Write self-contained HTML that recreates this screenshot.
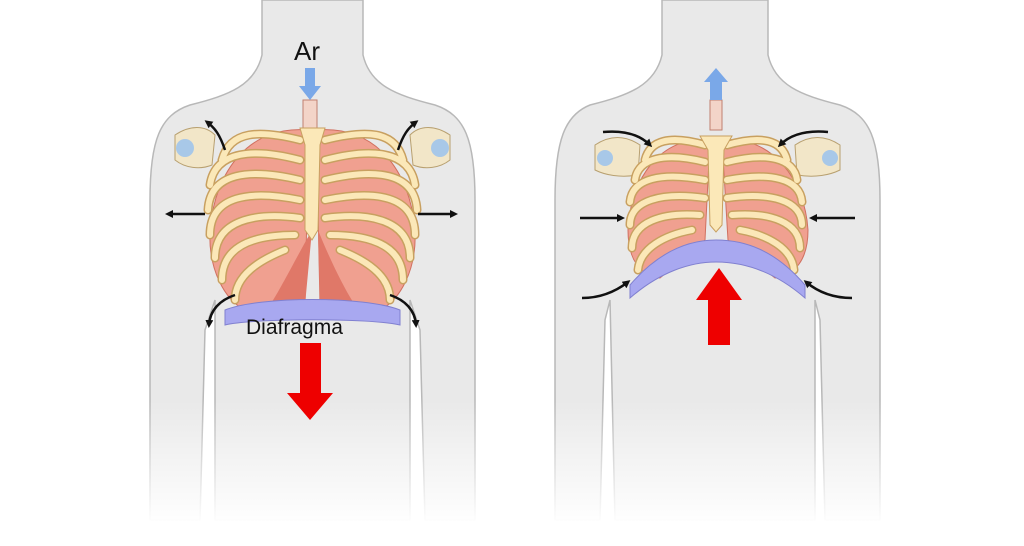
<!DOCTYPE html>
<html><head><meta charset="utf-8"><style>
html,body{margin:0;padding:0;background:#fff;}
svg{display:block;}
</style></head><body>
<svg width="1024" height="546" viewBox="0 0 1024 546" xmlns="http://www.w3.org/2000/svg">
<defs>
<marker id="ah" markerWidth="8" markerHeight="8" refX="5" refY="4" orient="auto" markerUnits="userSpaceOnUse">
<path d="M0,0 L8,4 L0,8 Z" fill="#111"/></marker>
<linearGradient id="fade" x1="0" y1="0" x2="0" y2="1"><stop offset="0" stop-color="#fff" stop-opacity="0"/><stop offset="0.85" stop-color="#fff" stop-opacity="1"/></linearGradient>
</defs>
<rect width="1024" height="546" fill="#fff"/>
<!-- left torso -->
<path d="M262,0 L262,55 C255,85 230,95 190,105 C160,115 150,140 150,200 L150,520 L200,520 L205,330 L215,300 L215,520 L410,520 L410,300 L420,330 L425,520 L475,520 L475,200 C475,140 465,115 435,105 C395,95 370,85 363,55 L363,0 Z" fill="#e9e9e9" stroke="#b8b8b8" stroke-width="1.5"/>
<!-- right torso -->
<path d="M662,0 L662,55 C655,85 630,95 590,105 C565,115 555,140 555,200 L555,520 L600,520 L605,320 L610,300 L615,520 L815,520 L815,300 L820,320 L825,520 L880,520 L880,200 C880,140 870,115 840,105 C800,95 775,85 768,55 L768,0 Z" fill="#e9e9e9" stroke="#b8b8b8" stroke-width="1.5"/>
<rect x="0" y="400" width="1024" height="146" fill="url(#fade)"/>

<!-- LEFT ribcage -->
<g>
<rect x="303" y="100" width="14" height="28" fill="#f3d4c8" stroke="#c08070"/>
<path d="M175,135 C190,125 205,125 215,135 L212,165 C200,170 185,168 175,160 Z" fill="#f2e6c8" stroke="#b8a070"/>
<path d="M450,135 C435,125 420,125 410,135 L413,165 C425,170 440,168 450,160 Z" fill="#f2e6c8" stroke="#b8a070"/>
<circle cx="185" cy="148" r="9" fill="#a8c8e8"/><circle cx="440" cy="148" r="9" fill="#a8c8e8"/>
<path d="M308,130 C250,125 215,170 210,230 C208,270 225,300 245,310 L305,305 L308,160 Z" fill="#f0a090" stroke="#d07060"/>
<path d="M317,130 C375,125 410,170 415,230 C417,270 400,300 380,310 L320,305 L317,160 Z" fill="#f0a090" stroke="#d07060"/>
<path d="M312,230 C295,260 280,290 270,305 L305,305 Z" fill="#e07868"/>
<path d="M318,230 C330,260 345,290 355,305 L320,305 Z" fill="#e07868"/>
<g fill="none" stroke="#c8a060" stroke-width="9" stroke-linecap="round">
<path d="M300,140 C260,130 230,130 222,160"/>
<path d="M300,160 C255,148 215,150 210,185"/>
<path d="M300,180 C250,168 210,172 208,210"/>
<path d="M300,200 C250,190 210,195 210,235"/>
<path d="M300,218 C255,212 215,220 215,258"/>
<path d="M295,235 C255,235 222,245 222,280"/>
<path d="M285,250 C260,260 235,275 235,300"/>
<path d="M325,140 C365,130 395,130 403,160"/>
<path d="M325,160 C370,148 410,150 415,185"/>
<path d="M325,180 C375,168 415,172 417,210"/>
<path d="M325,200 C375,190 415,195 415,235"/>
<path d="M325,218 C370,212 410,220 410,258"/>
<path d="M330,235 C370,235 403,245 403,280"/>
<path d="M340,250 C365,260 390,275 390,300"/>
</g>
<g fill="none" stroke="#fbe8b8" stroke-width="6" stroke-linecap="round">
<path d="M300,140 C260,130 230,130 222,160"/>
<path d="M300,160 C255,148 215,150 210,185"/>
<path d="M300,180 C250,168 210,172 208,210"/>
<path d="M300,200 C250,190 210,195 210,235"/>
<path d="M300,218 C255,212 215,220 215,258"/>
<path d="M295,235 C255,235 222,245 222,280"/>
<path d="M285,250 C260,260 235,275 235,300"/>
<path d="M325,140 C365,130 395,130 403,160"/>
<path d="M325,160 C370,148 410,150 415,185"/>
<path d="M325,180 C375,168 415,172 417,210"/>
<path d="M325,200 C375,190 415,195 415,235"/>
<path d="M325,218 C370,212 410,220 410,258"/>
<path d="M330,235 C370,235 403,245 403,280"/>
<path d="M340,250 C365,260 390,275 390,300"/>
</g>
<path d="M300,128 L325,128 L320,145 L318,230 L312,240 L305,230 L305,145 Z" fill="#fbe8b8" stroke="#c8a060"/>
<path d="M225,310 C260,296 365,296 400,310 L400,325 C370,318 255,318 225,325 Z" fill="#a8a8f0" stroke="#8080d0"/>
</g>

<!-- RIGHT ribcage -->
<g>
<rect x="710" y="100" width="12" height="30" fill="#f3d4c8" stroke="#c08070"/>
<path d="M595,145 C610,135 625,135 640,145 L638,175 C620,178 605,175 595,170 Z" fill="#f2e6c8" stroke="#b8a070"/>
<path d="M840,145 C825,135 810,135 795,145 L797,175 C815,178 830,175 840,170 Z" fill="#f2e6c8" stroke="#b8a070"/>
<circle cx="605" cy="158" r="8" fill="#a8c8e8"/><circle cx="830" cy="158" r="8" fill="#a8c8e8"/>
<path d="M710,140 C660,135 630,180 628,230 C628,260 640,275 660,278 L705,240 Z" fill="#f0a090" stroke="#d07060"/>
<path d="M722,140 C772,135 805,180 808,230 C808,260 795,275 775,278 L728,240 Z" fill="#f0a090" stroke="#d07060"/>
<g fill="none" stroke="#c8a060" stroke-width="9" stroke-linecap="round">
<path d="M705,145 C670,135 650,140 645,160"/>
<path d="M705,162 C665,152 638,158 635,180"/>
<path d="M705,180 C662,172 632,178 630,202"/>
<path d="M705,198 C662,192 630,200 630,225"/>
<path d="M700,215 C662,212 632,222 632,248"/>
<path d="M692,230 C665,235 640,248 638,270"/>
<path d="M727,145 C762,135 782,140 787,160"/>
<path d="M727,162 C767,152 794,158 797,180"/>
<path d="M727,180 C770,172 800,178 802,202"/>
<path d="M727,198 C770,192 802,200 802,225"/>
<path d="M732,215 C770,212 800,222 800,248"/>
<path d="M740,230 C767,235 792,248 794,270"/>
</g>
<g fill="none" stroke="#fbe8b8" stroke-width="6" stroke-linecap="round">
<path d="M705,145 C670,135 650,140 645,160"/>
<path d="M705,162 C665,152 638,158 635,180"/>
<path d="M705,180 C662,172 632,178 630,202"/>
<path d="M705,198 C662,192 630,200 630,225"/>
<path d="M700,215 C662,212 632,222 632,248"/>
<path d="M692,230 C665,235 640,248 638,270"/>
<path d="M727,145 C762,135 782,140 787,160"/>
<path d="M727,162 C767,152 794,158 797,180"/>
<path d="M727,180 C770,172 800,178 802,202"/>
<path d="M727,198 C770,192 802,200 802,225"/>
<path d="M732,215 C770,212 800,222 800,248"/>
<path d="M740,230 C767,235 792,248 794,270"/>
</g>
<path d="M700,136 L732,136 L724,150 L722,225 L716,232 L710,225 L708,150 Z" fill="#fbe8b8" stroke="#c8a060"/>
<path d="M630,285 C660,250 690,240 716,240 C745,240 775,250 805,285 L805,298 C775,272 745,262 716,262 C690,262 660,272 630,298 Z" fill="#a8a8f0" stroke="#8080d0"/>
</g>

<!-- blue air arrows -->
<path d="M305,68 L315,68 L315,86 L321,86 L310,100 L299,86 L305,86 Z" fill="#7aa8e8"/>
<path d="M710,100 L722,100 L722,82 L728,82 L716,68 L704,82 L710,82 Z" fill="#7aa8e8"/>

<!-- red arrows -->
<path d="M300,343 L321,343 L321,393 L333,393 L310,420 L287,393 L300,393 Z" fill="#ee0000"/>
<path d="M708,345 L730,345 L730,300 L742,300 L719,268 L696,300 L708,300 Z" fill="#ee0000"/>

<!-- black arrows -->
<g fill="none" stroke="#111" stroke-width="2.5">
<path d="M225,150 C220,135 215,128 207,122" marker-end="url(#ah)"/>
<path d="M398,150 C403,135 408,128 416,122" marker-end="url(#ah)"/>
<path d="M205,214 L168,214" marker-end="url(#ah)"/>
<path d="M418,214 L455,214" marker-end="url(#ah)"/>
<path d="M235,295 C220,300 210,310 209,325" marker-end="url(#ah)"/>
<path d="M390,295 C405,300 415,310 416,325" marker-end="url(#ah)"/>
<path d="M603,132 C625,130 640,135 650,145" marker-end="url(#ah)"/>
<path d="M828,132 C806,130 790,135 780,145" marker-end="url(#ah)"/>
<path d="M580,218 L622,218" marker-end="url(#ah)"/>
<path d="M855,218 L812,218" marker-end="url(#ah)"/>
<path d="M582,298 C600,298 615,292 628,282" marker-end="url(#ah)"/>
<path d="M852,298 C834,298 818,292 806,282" marker-end="url(#ah)"/>
</g>

<text x="294" y="60" font-family="Liberation Sans, sans-serif" font-size="26" fill="#111">Ar</text>
<text x="246" y="334" font-family="Liberation Sans, sans-serif" font-size="21" fill="#111">Diafragma</text>
</svg>
</body></html>
